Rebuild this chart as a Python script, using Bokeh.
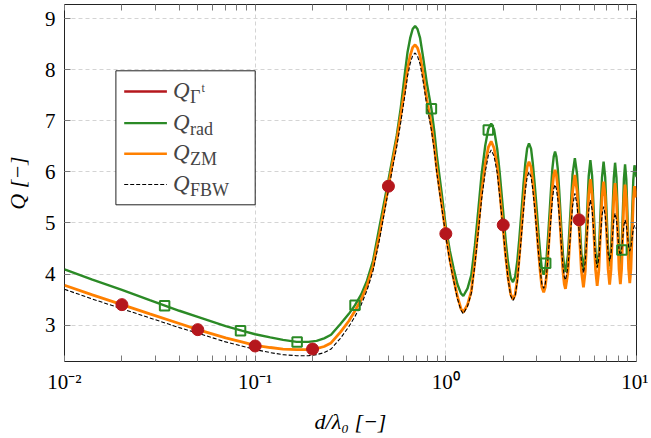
from bokeh.plotting import figure
from bokeh.models import (Range1d, LogAxis, LinearAxis, FixedTicker,
                          CustomJSTickFormatter, BoxAnnotation, Arrow, Label)
from bokeh.embed import file_html
from bokeh.resources import INLINE

# ---------------- data ----------------
d_lambda = [0.01, 0.014, 0.02, 0.028, 0.04, 0.05, 0.07, 0.085, 0.1, 0.12, 0.14, 0.165,
            0.19, 0.21, 0.23, 0.25, 0.28, 0.31, 0.334, 0.36, 0.386, 0.415, 0.45, 0.5,
            0.53, 0.553, 0.58, 0.612, 0.63, 0.65, 0.67, 0.69, 0.71, 0.733, 0.76, 0.795,
            0.84, 0.87, 0.897, 0.95, 1.0, 1.05, 1.1, 1.15, 1.2,
            1.235, 1.30, 1.36, 1.42, 1.48, 1.54, 1.61, 1.67, 1.73, 1.79, 1.86, 1.92,
            1.99, 2.06, 2.12, 2.19, 2.25, 2.31, 2.37, 2.43, 2.49, 2.55, 2.61, 2.67,
            2.73, 2.80, 2.86, 2.93, 2.995, 3.06, 3.13, 3.19, 3.26, 3.32, 3.38, 3.44,
            3.50, 3.56, 3.62, 3.68, 3.74, 3.80, 3.865, 3.93, 3.99, 4.05, 4.115, 4.18,
            4.24, 4.37, 4.495, 4.62, 4.75, 4.88, 5.01, 5.14, 5.27, 5.385, 5.50, 5.615,
            5.73, 5.85, 5.975, 6.10, 6.22, 6.345, 6.47, 6.595, 6.72, 6.85, 6.975, 7.10,
            7.23, 7.35, 7.475, 7.60, 7.72, 7.85, 7.975, 8.10, 8.23, 8.35, 8.47, 8.59,
            8.71, 8.84, 8.965, 9.09, 9.22, 9.35, 9.48, 9.62, 9.76, 9.88, 10.0]

q_rad = [4.09, 3.89, 3.69, 3.49, 3.28, 3.16, 2.98, 2.89, 2.82, 2.76, 2.71, 2.67,
         2.67, 2.69, 2.74, 2.81, 3.02, 3.22, 3.39, 3.60, 3.87, 4.26, 4.95, 5.84,
         6.35, 6.72, 7.25, 7.98, 8.35, 8.62, 8.80, 8.86, 8.80, 8.62, 8.25, 7.74,
         7.24, 6.80, 6.32, 5.60, 4.92, 4.45, 4.10, 3.80, 3.62,
         3.57, 3.72, 3.98, 4.55, 5.25, 5.95, 6.52, 6.84, 6.95, 6.83, 6.45, 5.95,
         5.30, 4.65, 4.22, 3.92, 3.84, 3.95, 4.25, 4.70, 5.20, 5.72, 6.16, 6.46,
         6.56, 6.45, 6.16, 5.72, 5.28, 4.82, 4.38, 4.09, 3.99, 4.08, 4.35, 4.75,
         5.20, 5.65, 6.06, 6.30, 6.40, 6.30, 6.06, 5.65, 5.22, 4.78, 4.38, 4.12,
         4.04, 4.37, 5.16, 5.95, 6.27, 5.95, 5.18, 4.41, 4.09, 4.40, 5.16, 5.92,
         6.23, 5.92, 5.18, 4.43, 4.12, 4.42, 5.16, 5.90, 6.20, 5.90, 5.17, 4.45,
         4.15, 4.45, 5.16, 5.88, 6.18, 5.89, 5.17, 4.47, 4.17, 4.46, 5.16, 5.86,
         6.15, 5.86, 5.17, 4.48, 4.19, 4.48, 5.16, 5.84, 6.13, 6.02, 5.90]

q_zm = [3.78, 3.59, 3.40, 3.22, 3.03, 2.91, 2.75, 2.67, 2.60, 2.56, 2.53, 2.52,
        2.52, 2.54, 2.58, 2.65, 2.86, 3.08, 3.28, 3.50, 3.77, 4.15, 4.80, 5.72,
        6.25, 6.62, 7.10, 7.68, 8.02, 8.28, 8.44, 8.49, 8.43, 8.27, 7.92, 7.42,
        6.92, 6.50, 6.05, 5.38, 4.79, 4.28, 3.90, 3.56, 3.32,
        3.25, 3.40, 3.66, 4.25, 4.92, 5.60, 6.16, 6.48, 6.60, 6.47, 6.12, 5.60,
        4.96, 4.35, 3.93, 3.60, 3.50, 3.60, 3.90, 4.35, 4.85, 5.35, 5.80, 6.10,
        6.20, 6.09, 5.80, 5.38, 4.92, 4.46, 4.03, 3.74, 3.64, 3.74, 4.00, 4.40,
        4.84, 5.28, 5.68, 5.94, 6.04, 5.94, 5.69, 5.30, 4.88, 4.46, 4.05, 3.80,
        3.71, 4.04, 4.83, 5.61, 5.94, 5.62, 4.84, 4.06, 3.74, 4.05, 4.80, 5.55,
        5.86, 5.55, 4.82, 4.08, 3.77, 4.07, 4.79, 5.51, 5.81, 5.52, 4.80, 4.09,
        3.79, 4.08, 4.78, 5.49, 5.78, 5.49, 4.79, 4.09, 3.80, 4.09, 4.78, 5.46,
        5.75, 5.47, 4.78, 4.10, 3.82, 4.10, 4.77, 5.44, 5.72, 5.62, 5.50]

q_fbw = [3.70, 3.51, 3.32, 3.14, 2.95, 2.84, 2.67, 2.59, 2.52, 2.46, 2.42, 2.40,
         2.40, 2.42, 2.46, 2.53, 2.74, 2.97, 3.17, 3.40, 3.68, 4.06, 4.70, 5.64,
         6.15, 6.50, 6.97, 7.54, 7.88, 8.12, 8.28, 8.33, 8.27, 8.11, 7.78, 7.30,
         6.82, 6.42, 5.98, 5.32, 4.74, 4.24, 3.86, 3.52, 3.29,
         3.22, 3.37, 3.62, 4.18, 4.82, 5.46, 6.00, 6.32, 6.43, 6.31, 5.98, 5.50,
         4.92, 4.33, 3.90, 3.57, 3.48, 3.57, 3.85, 4.28, 4.74, 5.20, 5.63, 5.90,
         6.00, 5.90, 5.65, 5.26, 4.84, 4.42, 4.05, 3.80, 3.72, 3.80, 4.02, 4.36,
         4.72, 5.10, 5.45, 5.67, 5.75, 5.67, 5.47, 5.16, 4.82, 4.48, 4.15, 3.95,
         3.88, 4.13, 4.73, 5.33, 5.58, 5.35, 4.80, 4.25, 4.02, 4.23, 4.74, 5.24,
         5.45, 5.26, 4.79, 4.32, 4.13, 4.30, 4.73, 5.15, 5.32, 5.16, 4.79, 4.40,
         4.25, 4.39, 4.72, 5.05, 5.19, 5.07, 4.77, 4.47, 4.35, 4.46, 4.71, 4.96,
         5.06, 4.97, 4.76, 4.54, 4.45, 4.53, 4.70, 4.88, 4.95, 4.92, 4.88]

gt_x = [0.02, 0.05, 0.1, 0.2, 0.5, 1.0, 2.0, 5.0]
gt_y = [3.40, 2.91, 2.59, 2.53, 5.72, 4.79, 4.96, 5.06]

rad_pts_x = [0.0335, 0.0838, 0.166, 0.334, 0.84, 1.67, 3.34, 8.38]
rad_pts_y = [3.38, 2.89, 2.67, 3.39, 7.24, 6.82, 4.21, 4.47]

x_ticks = [0.01, 0.1, 1.0, 10.0]
x_tick_labels = ["10\u207b\u00b2", "10\u207b\u00b9", "10\u2070", "10\u00b9"]
y_ticks = [3, 4, 5, 6, 7, 8, 9]

legend_subs = ["\u0393", "rad", "ZM", "FBW"]

# ---------------- styling ----------------
RED = "#B5171D"
GREEN = "#2B8A26"
ORANGE = "#FF8000"
FONT = "Liberation Serif"
TICK_COL = "#7a7a7a"

p = figure(width=648, height=436, x_axis_type="log",
           x_range=Range1d(0.01, 10), y_range=Range1d(2.286, 9.28),
           output_backend="svg", toolbar_location=None,
           min_border_left=64, min_border_right=12, min_border_top=4,
           min_border_bottom=75)

p.outline_line_color = "#222222"
p.outline_line_width = 1

minor_x = [m * 10.0 ** e for e in (-2, -1, 0) for m in range(2, 10)]
xticker = FixedTicker(ticks=x_ticks, minor_ticks=minor_x)
yticker = FixedTicker(ticks=y_ticks, minor_ticks=[])

xfmt = CustomJSTickFormatter(args=dict(tvals=x_ticks, tlabels=x_tick_labels), code="""
for (let i = 0; i < tvals.length; i++) {
  if (Math.abs(Math.log10(tvals[i]) - Math.log10(tick)) < 1e-6) return tlabels[i];
}
return "";
""")
blank = CustomJSTickFormatter(code="return ' ';")

for ax in (p.xaxis[0], p.yaxis[0]):
    ax.axis_line_color = None
    ax.major_tick_in = 6
    ax.major_tick_out = 0
    ax.minor_tick_in = 6
    ax.minor_tick_out = 0
    ax.major_tick_line_color = TICK_COL
    ax.minor_tick_line_color = TICK_COL
    ax.major_label_text_font = FONT
    ax.major_label_text_font_size = "21px"
    ax.major_label_text_color = "black"
    ax.axis_label_text_font = FONT
    ax.axis_label_text_font_size = "22px"
    ax.axis_label_text_font_style = "italic"
    ax.axis_label_text_color = "black"

p.xaxis[0].ticker = xticker
p.xaxis[0].formatter = xfmt
p.xaxis[0].major_label_standoff = 8
p.xaxis[0].axis_label = "d/\u03bb\u2080 [\u2212]"
p.xaxis[0].axis_label_standoff = 12

p.yaxis[0].ticker = yticker
p.yaxis[0].major_label_standoff = 9
p.yaxis[0].axis_label = "Q [\u2212]"
p.yaxis[0].axis_label_standoff = 12

top = LogAxis(ticker=xticker, formatter=blank, major_label_text_font_size="2px",
              major_label_text_alpha=0, axis_line_color=None,
              major_tick_in=6, major_tick_out=0, minor_tick_in=6, minor_tick_out=0,
              major_tick_line_color=TICK_COL, minor_tick_line_color=TICK_COL,
              major_label_standoff=0)
right = LinearAxis(ticker=yticker, formatter=blank, major_label_text_font_size="2px",
                   major_label_text_alpha=0, axis_line_color=None,
                   major_tick_in=6, major_tick_out=0, minor_tick_in=0, minor_tick_out=0,
                   major_tick_line_color=TICK_COL, major_label_standoff=0)
p.add_layout(top, "above")
p.add_layout(right, "right")

p.xgrid.ticker = xticker
p.ygrid.ticker = yticker
for g in (p.xgrid[0], p.ygrid[0]):
    g.grid_line_color = "#d4d4d4"
    g.grid_line_dash = "4 3"
    g.grid_line_width = 1

# ---------------- curves and markers ----------------
p.line(d_lambda, q_rad, line_color=GREEN, line_width=2.4)
p.line(d_lambda, q_zm, line_color=ORANGE, line_width=2.8)
p.line(d_lambda, q_fbw, line_color="black", line_width=1.1, line_dash="4 2")
p.scatter(rad_pts_x, rad_pts_y, marker="square", size=9.5, fill_color=None,
          line_color=GREEN, line_width=2)
p.scatter(gt_x, gt_y, marker="circle", size=12, fill_color=RED, line_color=RED)

# ---------------- legend (annotations, frame-relative screen units) ----------------
box = BoxAnnotation(left=51.4, right=190.7, top=290.7, bottom=156.7,
                    left_units="screen", right_units="screen",
                    top_units="screen", bottom_units="screen",
                    fill_color="white", fill_alpha=1.0,
                    line_color="#222222", line_width=1, line_alpha=1.0)
p.add_layout(box)

rows = [270.0, 238.4, 207.7, 177.0]
styles = [(RED, 2.4, "solid"), (GREEN, 2.4, "solid"), (ORANGE, 2.4, "solid"),
          ("black", 1.0, "4 2")]
for yrow, (col, lw, dash) in zip(rows, styles):
    p.add_layout(Arrow(end=None, x_start=59.7, y_start=yrow, x_end=102.4, y_end=yrow,
                       start_units="screen", end_units="screen",
                       line_color=col, line_width=lw, line_dash=dash))
    p.add_layout(Label(x=108.5, y=yrow + 1, x_units="screen", y_units="screen",
                       text="Q", text_font=FONT, text_font_size="23px",
                       text_font_style="italic", text_baseline="middle"))

for yrow, sub in zip(rows, legend_subs):
    p.add_layout(Label(x=125.5, y=yrow - 5.5, x_units="screen", y_units="screen",
                       text=sub, text_font=FONT, text_font_size="18px",
                       text_baseline="middle"))
p.add_layout(Label(x=137.0, y=rows[0] + 4, x_units="screen", y_units="screen",
                   text="t", text_font=FONT, text_font_size="12px",
                   text_baseline="middle"))

open("out.html", "w").write(file_html(p, INLINE))
